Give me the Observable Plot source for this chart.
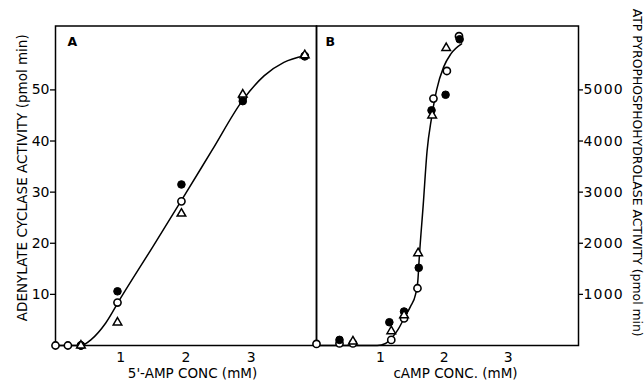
<!DOCTYPE html>
<html><head><meta charset="utf-8">
<script src="https://cdn.jsdelivr.net/npm/d3@7"></script>
<script src="https://cdn.jsdelivr.net/npm/@observablehq/plot@0.6"></script>
<style>
body{margin:0;background:#fff}
#wrap{position:relative;width:644px;height:386px;overflow:hidden;background:#fff}
#wrap svg{position:absolute;top:0}
</style>
</head><body><div id="wrap"></div>
<script>
// ---- Panel A: adenylate cyclase vs 5'-AMP (mM) ----
const aOpenX = [0, 0.19, 0.39, 0.95, 1.93, 2.87, 3.82];
const aOpenY = [0, 0, 0, 8.4, 28.2, 48.5, 56.6];
const aFilledX = [0.39, 0.95, 1.93, 2.87, 3.82];
const aFilledY = [0, 10.6, 31.5, 47.8, 56.6];
const aTriX = [0.39, 0.95, 1.93, 2.87, 3.82];
const aTriY = [0, 4.5, 25.8, 49.1, 56.8];
const aCurveX = [0, 0.39, 0.55, 0.77, 1.0, 1.5, 1.93, 2.4, 2.87, 3.2, 3.5, 3.82];
const aCurveY = [0, 0, 1.2, 4.4, 9.3, 19.5, 28.4, 38.2, 48.0, 52.8, 55.4, 56.7];
const aTicksY = [10, 20, 30, 40, 50];
const ticksX = [1, 2, 3];

// ---- Panel B: ATP pyrophosphohydrolase vs cAMP (mM) ----
const bOpenX = [0, 0.36, 0.57, 1.17, 1.37, 1.58, 1.83, 2.04, 2.23];
const bOpenY = [30, 40, 40, 110, 530, 1120, 4830, 5370, 6050];
const bFilledX = [0.36, 1.14, 1.37, 1.60, 1.80, 2.02, 2.24];
const bFilledY = [110, 455, 665, 1520, 4600, 4905, 5990];
const bTriX = [0.57, 1.17, 1.37, 1.59, 1.81, 2.03];
const bTriY = [80, 280, 590, 1806, 4500, 5820];
const bCurveX = [0, 0.95, 1.08, 1.18, 1.28, 1.37, 1.47, 1.55, 1.585, 1.61, 1.67, 1.73, 1.8, 1.88, 1.99, 2.1, 2.27];
const bCurveY = [0, 0, 40, 150, 320, 530, 760, 1000, 1250, 1750, 2750, 3800, 4450, 5000, 5450, 5700, 5900];
const bTicksY = [1000, 2000, 3000, 4000, 5000];

const titleA_y = "ADENYLATE CYCLASE ACTIVITY (pmol min)";
const titleA_x = "5'-AMP CONC (mM)";
const titleB_y = "ATP PYROPHOSPHOHYDROLASE ACTIVITY (pmol min)";
const titleB_x = "cAMP CONC. (mM)";

const pts = (xs, ys) => xs.map((x, i) => ({x, y: ys[i]}));
const FONT = "DejaVu Sans, sans-serif";

function markers(open, filled, tri) {
  return [
    Plot.dot(open, {x: "x", y: "y", r: 3.6, fill: "white", stroke: "black", strokeWidth: 1.6}),
    Plot.dot(filled, {x: "x", y: "y", r: 3.8, fill: "black", stroke: "black", strokeWidth: 1}),
    Plot.dot(tri, {x: "x", y: "y", r: 3.2, symbol: "triangle", fill: "white", stroke: "black", strokeWidth: 1.5})
  ];
}

const plotA = Plot.plot({
  width: 320, height: 386,
  marginLeft: 55, marginRight: 4, marginTop: 25.5, marginBottom: 41,
  style: {fontFamily: FONT, fontSize: "14px", background: "transparent", color: "black"},
  x: {domain: [0, 4]},
  y: {domain: [0, 62.5]},
  marks: [
    Plot.frame({stroke: "black", strokeWidth: 1.5}),
    Plot.axisY({ticks: aTicksY, tickSize: 5, tickPadding: 1, label: null, fontSize: 14, tickFormat: d => String(d), strokeWidth: 1.3}),
    Plot.axisX({ticks: ticksX, tickSize: 0, tickPadding: 7, label: null, fontSize: 14, tickFormat: d => String(d)}),
    Plot.line(pts(aCurveX, aCurveY), {x: "x", y: "y", curve: "monotone-x", stroke: "black", strokeWidth: 1.5}),
    ...markers(pts(aOpenX, aOpenY), pts(aFilledX, aFilledY), pts(aTriX, aTriY)),
    Plot.text([titleA_y], {frameAnchor: "left", textAnchor: "middle", rotate: -90, dx: -33, dy: -8, fontSize: 13.5, text: d => d}),
    Plot.text([titleA_x], {frameAnchor: "bottom", dx: 6.5, dy: 32, fontSize: 13.5, text: d => d}),
    Plot.text(["A"], {frameAnchor: "top-left", dx: 12, dy: 11, fontSize: 12.5, fontWeight: "bold", text: d => d})
  ]
});

const plotB = Plot.plot({
  width: 344, height: 386,
  marginLeft: 16, marginRight: 66, marginTop: 25.5, marginBottom: 41,
  style: {fontFamily: FONT, fontSize: "14px", background: "transparent", color: "black"},
  x: {domain: [0, 4.1]},
  y: {domain: [0, 6250]},
  marks: [
    Plot.frame({stroke: "black", strokeWidth: 1.5}),
    Plot.axisY({anchor: "right", ticks: bTicksY, tickSize: 4, tickPadding: 1, label: null, fontSize: 14, tickFormat: d => String(d), strokeWidth: 1.3}),
    Plot.axisX({ticks: ticksX, tickSize: 0, tickPadding: 7, label: null, fontSize: 14, tickFormat: d => String(d)}),
    Plot.line(pts(bCurveX, bCurveY), {x: "x", y: "y", curve: "monotone-x", stroke: "black", strokeWidth: 1.5}),
    ...markers(pts(bOpenX, bOpenY), pts(bFilledX, bFilledY), pts(bTriX, bTriY)),
    Plot.text([titleB_y], {frameAnchor: "right", textAnchor: "middle", rotate: 90, dx: 58, dy: -13, fontSize: 12.4, text: d => d}),
    Plot.text([titleB_x], {frameAnchor: "bottom", dx: 8, dy: 32, fontSize: 13.5, text: d => d}),
    Plot.text(["B"], {frameAnchor: "top-left", dx: 9, dy: 11, fontSize: 12.5, fontWeight: "bold", text: d => d})
  ]
});

const wrap = document.getElementById("wrap");
plotA.style.left = "0px";
plotB.style.left = "300px";
wrap.appendChild(plotA);
wrap.appendChild(plotB);
d3.select(plotB).selectAll("g[aria-label='y-axis tick label'] text").style("letter-spacing", "1.2px");
</script></body></html>
